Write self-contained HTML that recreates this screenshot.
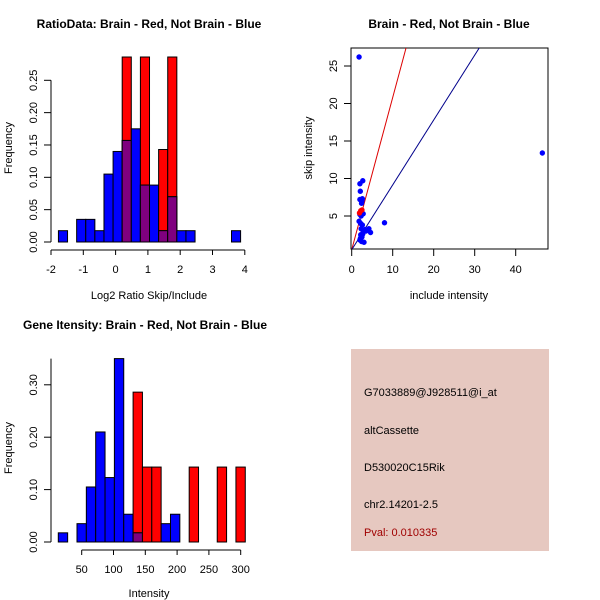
<!DOCTYPE html>
<html><head><meta charset="utf-8"><style>
body{margin:0;background:#fff;}
svg{display:block;font-family:"Liberation Sans",sans-serif;}
</style></head><body>
<svg id="c" width="600" height="600"></svg>
<script>
// ---- Data ----
const ratioBlue=[0.0175,0,0.035,0.035,0.0175,0.105,0.14,0.157,0.175,0.088,0.088,0.0175,0.07,0.0175,0.0175,0,0,0,0,0.0175];
const ratioRed=[0,0,0,0,0,0,0,0.286,0,0.286,0,0.143,0.286,0,0,0,0,0,0,0];
const ratioStart=-1.77, ratioW=0.282;
const ratioXTicks=[-2,-1,0,1,2,3,4];
const ratioYTicks=[0,0.05,0.10,0.15,0.20,0.25];
const intBlue=[0.0175,0,0.035,0.105,0.21,0.123,0.35,0.053,0.0175,0,0,0.035,0.053,0,0,0,0,0,0,0];
const intRed=[0,0,0,0,0,0,0,0,0.286,0.143,0.143,0,0,0,0.143,0,0,0.143,0,0.143];
const intStart=13.2, intW=14.7;
const intXTicks=[50,100,150,200,250,300];
const intYTicks=[0,0.10,0.20,0.30];
const scBlueX=[1.8,46.5,8,2,2.7,2.1,2.0,2.6,2.4,2.5,2.8,1.8,2.2,2.6,2.3,2.8,3.3,4.2,4.6,2.2,2.5,2.0,2.4,3.0,2.1,2.7,3.5,2.3,2.0];
const scBlueY=[26.2,13.4,4.1,9.3,9.7,8.3,7.2,7.3,6.7,7.0,5.3,4.3,4.0,3.8,3.3,3.0,3.2,3.3,2.8,2.5,2.2,1.8,1.6,1.5,2.0,2.6,3.0,5.0,5.2];
const scRedX=[1.9,2.2,2.5];
const scRedY=[5.4,5.7,5.8];
const redLine=[0.5,2.03];   // intercept, slope
const blueLine=[0.5,0.865];
const scXTicks=[0,10,20,30,40];
const scYTicks=[5,10,15,20,25];

const NS="http://www.w3.org/2000/svg";
const svg=document.getElementById('c');
function mk(tag,attrs,parent){const e=document.createElementNS(NS,tag);for(const k in attrs)e.setAttribute(k,attrs[k]);(parent||svg).appendChild(e);return e;}
function txt(s,x,y,opt,name){const t=mk('text',Object.assign({x:x,y:y,'font-size':11,'text-anchor':'middle',fill:'#000'},opt||{}));t.textContent=s;


return t;}
function line(x1,y1,x2,y2,name,col){const l=mk('line',{x1:x1,y1:y1,x2:x2,y2:y2,stroke:col||'#000','stroke-width':1});


return l;}

function hist(cfg){
  const g=mk('g',{});
  
  
  const X=v=>cfg.x0px+(v-cfg.x0)*cfg.xs, Y=v=>cfg.y0px-v*cfg.ys;
  for(let i=0;i<cfg.red.length;i++){
    const l=X(cfg.start+i*cfg.w), r=X(cfg.start+(i+1)*cfg.w);
    const rv=cfg.red[i], bv=cfg.blue[i]||0;
    if(rv>0){const e=mk('rect',{x:l,y:Y(rv),width:r-l,height:Y(0)-Y(rv),fill:'#ff0000',stroke:'#000','stroke-width':1},g);
      
      }
    if(bv>0){const e=mk('rect',{x:l,y:Y(bv),width:r-l,height:Y(0)-Y(bv),fill:'#0000ff',stroke:'#000','stroke-width':1},g);
      
      }
    const m=Math.min(rv,bv);
    if(m>0){const e=mk('rect',{x:l,y:Y(m),width:r-l,height:Y(0)-Y(m),fill:'#7f007f',stroke:'#000','stroke-width':1},g);
      
      }
  }
  const xt=cfg.xticks;
  line(X(xt[0]),cfg.xAxisY,X(xt[xt.length-1]),cfg.xAxisY,'x-axis-line');
  xt.forEach(v=>{line(X(v),cfg.xAxisY,X(v),cfg.xAxisY+5,'x-tick');txt(String(v),X(v),cfg.xAxisY+23,{},'x-tick-label');});
  const yt=cfg.yticks;
  line(cfg.yAxisX,Y(yt[0]),cfg.yAxisX,Y(cfg.yTop),'y-axis-line');
  yt.forEach(v=>{line(cfg.yAxisX-7,Y(v),cfg.yAxisX,Y(v),'y-tick');
    txt(v.toFixed(2),cfg.yAxisX-14,Y(v),{transform:`rotate(-90 ${cfg.yAxisX-14} ${Y(v)})`},'y-tick-label');});
  txt(cfg.title,cfg.titleX,cfg.titleY,{'font-weight':'bold','font-size':12},'chart-title');
  txt(cfg.xlab,cfg.xlabX,cfg.xlabY,{},'x-axis-title');
  txt('Frequency',12,cfg.ylabY,{transform:`rotate(-90 12 ${cfg.ylabY})`},'y-axis-title');
}
hist({name:'ratio-histogram',red:ratioRed,blue:ratioBlue,start:ratioStart,w:ratioW,x0:-2,x0px:51,xs:32.3,y0px:242,ys:646.8,
  xticks:ratioXTicks,yticks:ratioYTicks,yTop:0.25,xAxisY:250,yAxisX:51,title:'RatioData: Brain - Red, Not Brain - Blue',titleX:149,titleY:28,
  xlab:'Log2 Ratio Skip/Include',xlabX:149,xlabY:299,ylabY:148});
hist({name:'intensity-histogram',red:intRed,blue:intBlue,start:intStart,w:intW,x0:50,x0px:81.7,xs:0.636,y0px:542,ys:524,
  xticks:intXTicks,yticks:intYTicks,yTop:0.35,xAxisY:550,yAxisX:51,title:'Gene Itensity: Brain - Red, Not Brain - Blue',titleX:145,titleY:329,
  xlab:'Intensity',xlabX:149,xlabY:597,ylabY:448});

(function(){
  const X=v=>351.7+v*4.1, Y=v=>216-(v-5)*7.5;
  const g=mk('g',{});
  
  
  const box=mk('rect',{x:351,y:48,width:197,height:201,fill:'none',stroke:'#000'},g);
  
  
  const clip=mk('clipPath',{id:'sc'});mk('rect',{x:351,y:48,width:197,height:201},clip);
  const cg=mk('g',{'clip-path':'url(#sc)'},g);
  const ln=(p,col,name)=>{const x1=0,x2=50;const l=mk('line',{x1:X(x1),y1:Y(p[0]+p[1]*x1),x2:X(x2),y2:Y(p[0]+p[1]*x2),stroke:col,'stroke-width':1},cg);
    
    };
  ln(redLine,'#dd0000','red-fit-line');ln(blueLine,'#00008b','blue-fit-line');
  scBlueX.forEach((x,i)=>{const c=mk('circle',{cx:X(x),cy:Y(scBlueY[i]),r:2.7,fill:'#0000ff'},cg);
    
    });
  scRedX.forEach((x,i)=>{const c=mk('circle',{cx:X(x),cy:Y(scRedY[i]),r:2.7,fill:'#ff0000'},cg);
    
    });
  scXTicks.forEach(v=>{line(X(v),249,X(v),256,'x-tick');txt(String(v),X(v),273,{},'x-tick-label');});
  scYTicks.forEach(v=>{line(344,Y(v),351,Y(v),'y-tick');txt(String(v),337,Y(v),{transform:`rotate(-90 337 ${Y(v)})`},'y-tick-label');});
  txt('Brain - Red, Not Brain - Blue',449,28,{'font-weight':'bold','font-size':12},'scatter-title');
  txt('include intensity',449,299,{},'x-axis-title');
  txt('skip intensity',312,148,{transform:'rotate(-90 312 148)'},'y-axis-title');
})();

(function(){
  const r=mk('rect',{x:351,y:349,width:198,height:202,fill:'#e6c8c0'});
  
  
  txt('G7033889@J928511@i_at',364,396,{'text-anchor':'start'},'probe-id');
  txt('altCassette',364,434,{'text-anchor':'start'},'event-type');
  txt('D530020C15Rik',364,471,{'text-anchor':'start'},'gene-name');
  txt('chr2.14201-2.5',364,508,{'text-anchor':'start'},'locus');
  txt('Pval: 0.010335',364,536,{'text-anchor':'start',fill:'#a00000'},'p-value');
})();
</script>
</body></html>
